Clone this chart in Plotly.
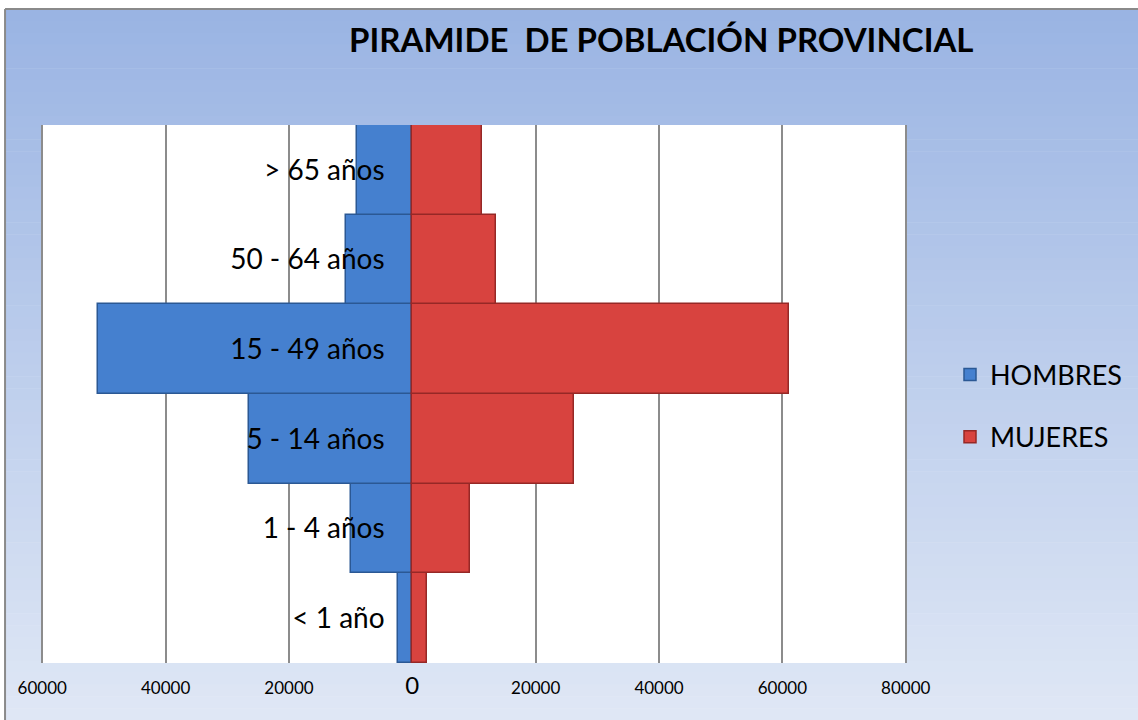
import plotly.graph_objects as go

# datos de la piramide (de abajo hacia arriba)
grupos = ["< 1 año", "1 - 4 años", "5 - 14 años", "15 - 49 años", "50 - 64 años", "> 65 años"]
hombres = [2300, 10000, 26500, 51000, 10700, 8900]
mujeres = [2400, 9400, 26200, 61000, 13600, 11300]

tick_vals = [-60000, -40000, -20000, 0, 20000, 40000, 60000, 80000]
tick_text = ["60000", "40000", "20000", "<span style='font-size:24px'>0</span>",
             "20000", "40000", "60000", "80000"]

W, H = 1138, 720
L, R, T, B = 41, 230, 125, 57
pw, ph = W - L - R, H - T - B


def px_x(p):
    return (p - L) / pw


def px_y(p):
    return (H - B - p) / ph


fig = go.Figure()

fig.add_trace(go.Bar(
    y=grupos, x=[-v for v in hombres], name="HOMBRES", orientation="h",
    marker=dict(color="#4580cf", line=dict(color="#2b5894", width=1.5)),
    legendgroup="h", customdata=hombres, hovertemplate="%{y}: %{customdata}<extra></extra>",
))
fig.add_trace(go.Bar(
    y=grupos, x=mujeres, name="MUJERES", orientation="h",
    marker=dict(color="#d8433f", line=dict(color="#962826", width=1.5)),
    legendgroup="m", hovertemplate="%{y}: %{x}<extra></extra>",
))

# fondo degradado
shapes = []
n = 60
top, bot = 9, H
c1, c2 = (154, 180, 227), (223, 231, 245)
for i in range(n):
    a = top + (bot - top) * i / n
    b = top + (bot - top) * (i + 1) / n
    t = i / (n - 1)
    col = "rgb(%d,%d,%d)" % tuple(round(c1[k] + (c2[k] - c1[k]) * t) for k in range(3))
    shapes.append(dict(type="rect", xref="paper", yref="paper",
                       x0=px_x(5), x1=px_x(W + 2), y0=px_y(b + 0.5), y1=px_y(a),
                       fillcolor=col, line=dict(width=0), layer="below"))
# franja blanca arriba y borde
shapes.append(dict(type="rect", xref="paper", yref="paper",
                   x0=px_x(-2), x1=px_x(W + 2), y0=px_y(8), y1=px_y(-2),
                   fillcolor="white", line=dict(width=0), layer="below"))
shapes.append(dict(type="line", xref="paper", yref="paper",
                   x0=px_x(5), x1=px_x(W + 2), y0=px_y(9), y1=px_y(9),
                   line=dict(color="#8a8a8a", width=2), layer="below"))
shapes.append(dict(type="line", xref="paper", yref="paper",
                   x0=px_x(5), x1=px_x(5), y0=px_y(9), y1=px_y(H + 2),
                   line=dict(color="#8a8a8a", width=2), layer="below"))
# area de trazado blanca
shapes.append(dict(type="rect", xref="paper", yref="paper", x0=0, x1=1, y0=0, y1=1,
                   fillcolor="white", line=dict(width=0), layer="below"))

fig.update_layout(
    width=W, height=H,
    margin=dict(l=L, r=R, t=T, b=B),
    paper_bgcolor="white",
    plot_bgcolor="rgba(0,0,0,0)",
    barmode="relative",
    bargap=0,
    shapes=shapes,
    font=dict(family="Lato", color="black"),
    title=dict(text="<b>PIRAMIDE  DE POBLACIÓN PROVINCIAL</b>", x=px_x(662), xref="paper",
               xanchor="center", y=1 - 40 / H, yanchor="middle",
               font=dict(size=33, color="black", family="Lato")),
    xaxis=dict(range=[-60200, 80200], tickvals=tick_vals, ticktext=tick_text,
               showgrid=True, gridcolor="#8c8c8c", gridwidth=2,
               zeroline=True, zerolinecolor="#8c8c8c", zerolinewidth=2,
               ticks="outside", ticklen=10, tickcolor="rgba(0,0,0,0)",
               tickfont=dict(size=17, color="black", family="Lato"),
               showline=False, fixedrange=True),
    yaxis=dict(categoryorder="array", categoryarray=grupos,
               anchor="free", position=px_x(385), side="left",
               ticks="", showgrid=False, showline=False, zeroline=False,
               tickfont=dict(size=28, color="black", family="Lato"),
               fixedrange=True),
    legend=dict(x=px_x(950), y=px_y(406), xanchor="left", yanchor="middle",
                font=dict(size=27, color="black", family="Lato"),
                bgcolor="rgba(0,0,0,0)", tracegroupgap=24, traceorder="grouped"),
    showlegend=True,
)

fig.write_html("out.html", config={"displayModeBar": False},
               post_script="document.body.style.margin='0px';")
